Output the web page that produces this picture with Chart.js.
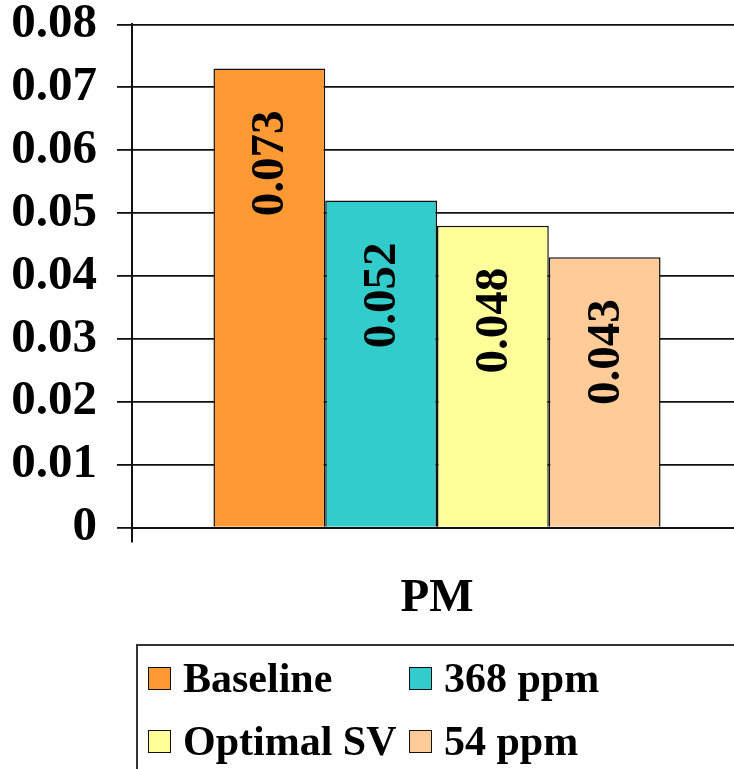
<!DOCTYPE html>
<html>
<head>
<meta charset="utf-8">
<script src="https://cdn.jsdelivr.net/npm/chart.js@4"></script>
<style>
    html, body { margin: 0; padding: 0; background: #fff; }
    #wrap { position: relative; width: 734px; height: 769px; overflow: hidden; }
    #chart { position: absolute; left: 0; top: -25px; }
    #legend {
        position: absolute; left: 136px; top: 644px; width: 640px; height: 160px;
        border: 2px solid #333; box-sizing: border-box;
        font-family: "Liberation Serif", "Times New Roman", serif; font-weight: bold; font-size: 42px;
    }
    .item { position: absolute; display: flex; align-items: center; height: 50px; white-space: nowrap; }
    .box { width: 21px; height: 21px; border: 1.5px solid #111; margin-right: 12px; }
</style>
</head>
<body>
<div id="wrap">
    <canvas id="chart" width="742" height="800"></canvas>
    <div id="legend"></div>
</div>
<script>
// Data
const categories = ['PM'];
const seriesNames = ['Baseline', '368 ppm', 'Optimal SV', '54 ppm'];
const seriesValues = [[0.073], [0.052], [0.048], [0.043]];
const seriesColors = ['#FF9933', '#33CCCC', '#FFFF99', '#FFCC99'];
const yTicks = [0, 0.01, 0.02, 0.03, 0.04, 0.05, 0.06, 0.07, 0.08];

const FONT = '"Liberation Serif", "Times New Roman", serif';

// Rotated value labels inside the bars
const barLabels = {
    id: 'barLabels',
    afterDatasetsDraw(chart) {
        const ctx = chart.ctx;
        ctx.save();
        ctx.font = 'bold 47px ' + FONT;
        ctx.fillStyle = '#000';
        ctx.textAlign = 'right';
        ctx.textBaseline = 'middle';
        chart.data.datasets.forEach((ds, i) => {
            chart.getDatasetMeta(i).data.forEach((bar, j) => {
                ctx.save();
                ctx.translate(bar.x + 2, bar.y + 42);
                ctx.rotate(-Math.PI / 2);
                ctx.fillText(String(ds.data[j]), 0, 0);
                ctx.restore();
            });
        });
        ctx.restore();
    }
};

const chart = new Chart(document.getElementById('chart'), {
    type: 'bar',
    data: {
        labels: categories,
        datasets: seriesNames.map((name, i) => ({
            label: name,
            data: seriesValues[i],
            backgroundColor: seriesColors[i],
            borderColor: '#111',
            borderWidth: 1.5,
            barPercentage: 1,
            categoryPercentage: 0.733
        }))
    },
    options: {
        responsive: false,
        animation: false,
        layout: { padding: { left: 0, top: 0, right: 0, bottom: 120 } },
        plugins: {
            legend: { display: false },
            tooltip: { enabled: false }
        },
        scales: {
            x: {
                offset: true,
                grid: { display: true, drawOnChartArea: false, offset: true, color: '#111', lineWidth: 2, tickLength: 15 },
                border: { display: true, color: '#111', width: 2 },
                ticks: { color: '#000', padding: 28, font: { family: FONT, size: 47, weight: 'bold' } }
            },
            y: {
                min: 0,
                max: 0.08,
                afterBuildTicks: (scale) => { scale.ticks = yTicks.map(v => ({ value: v })); },
                afterFit: (scale) => { scale.width = 132; },
                grid: { color: '#111', lineWidth: 1.8, tickLength: 15 },
                border: { display: true, color: '#111', width: 2 },
                ticks: {
                    color: '#000', padding: 20, autoSkip: false,
                    font: { family: FONT, size: 49, weight: 'bold' },
                    callback: (v) => String(+v.toFixed(2))
                }
            }
        }
    },
    plugins: [barLabels]
});

// HTML legend, two columns like the original
const legend = document.getElementById('legend');
const spots = [[10, 7], [271, 7], [10, 70], [271, 70]];
chart.data.datasets.forEach((ds, i) => {
    const item = document.createElement('div');
    item.className = 'item';
    item.style.left = spots[i][0] + 'px';
    item.style.top = spots[i][1] + 'px';
    item.innerHTML = `<span class="box" style="background:${ds.backgroundColor}"></span><span>${ds.label}</span>`;
    legend.appendChild(item);
});
</script>
</body>
</html>
